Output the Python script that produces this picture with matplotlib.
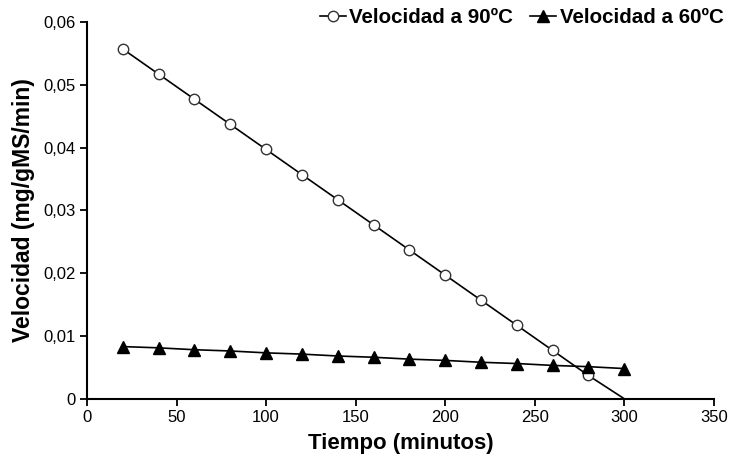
import numpy as np
import matplotlib.pyplot as plt

plt.rcParams['font.family'] = ['Liberation Sans', 'DejaVu Sans']

# tiempo en minutos
tiempo = [20, 40, 60, 80, 100, 120, 140, 160, 180, 200, 220, 240, 260, 280, 300]

# velocidad a 90ºC (ultimo punto: extremo de la recta, sin marcador)
vel_90 = [0.0557, 0.0517, 0.0477, 0.0437, 0.0397, 0.0357, 0.0317, 0.0277,
          0.0237, 0.0197, 0.0157, 0.0117, 0.0077, 0.0037, 0.0]
# velocidad a 60ºC
vel_60 = [0.0083, 0.0081, 0.0078, 0.0076, 0.0073, 0.0071, 0.0068, 0.0066,
          0.0063, 0.0061, 0.0058, 0.0056, 0.0053, 0.0051, 0.0048]

xticks = [0, 50, 100, 150, 200, 250, 300, 350]
yticks = [0, 0.01, 0.02, 0.03, 0.04, 0.05, 0.06]
ytick_labels = ['0', '0,01', '0,02', '0,03', '0,04', '0,05', '0,06']

fig = plt.figure(figsize=(7.33, 4.59), dpi=100)
ax = fig.add_axes([0.1187, 0.1314, 0.855, 0.8206])

ax.plot(tiempo, vel_90, color='black', lw=1.2, marker='o', ms=7.5,
        mfc='white', mec='#333333', mew=1.0, markevery=list(range(14)),
        label='Velocidad a 90ºC')
ax.plot(tiempo, vel_60, color='black', lw=1.2, marker='^', ms=8.5,
        mfc='black', mec='black', label='Velocidad a 60ºC')

ax.set_xlim(0, 350)
ax.set_ylim(0, 0.06)
ax.set_xticks(xticks)
ax.set_yticks(yticks)
ax.set_yticklabels(ytick_labels)
ax.tick_params(direction='out', length=5, width=1.3, labelsize=12,
               colors='black', pad=3)

for s in ['top', 'right']:
    ax.spines[s].set_visible(False)
for s in ['left', 'bottom']:
    ax.spines[s].set_linewidth(1.5)

ax.set_xlabel('Tiempo (minutos)', fontsize=16, fontweight='bold', labelpad=6)
ax.set_ylabel('Velocidad (mg/gMS/min)', fontsize=16.5, fontweight='bold', labelpad=6)

fig.legend(loc='upper right', bbox_to_anchor=(1.012, 1.022), ncol=2,
           frameon=False, handlelength=1.3, handletextpad=0.15,
           columnspacing=0.8, prop={'size': 14.8, 'weight': 'bold'})

fig.savefig('out.png', dpi=100)
